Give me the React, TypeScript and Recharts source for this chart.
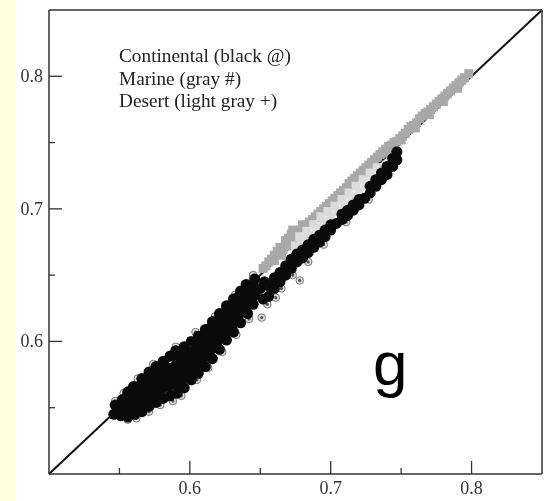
import React from "react";
import { ScatterChart, Scatter, XAxis, YAxis, ReferenceLine } from "recharts";

type P = [number, number];

const tickValues = [0.55, 0.6, 0.65, 0.7, 0.75, 0.8];
const majorTicks = [0.6, 0.7, 0.8];
const legendLines = ["Continental (black @)", "Marine (gray #)", "Desert (light gray +)"];
const panelLetter = "g";

const continentalBody: P[] = [
  [0.556,0.553],[0.562,0.556],[0.568,0.561],[0.574,0.566],[0.58,0.57],[0.586,0.574],[0.592,0.577],
  [0.598,0.581],[0.604,0.588],[0.61,0.595],[0.616,0.602],[0.622,0.609],[0.628,0.616],[0.634,0.625],[0.64,0.632],
];

const continentalCore: P[] = [
  [0.546,0.545],[0.547,0.552],[0.551,0.544],[0.55,0.551],[0.552,0.556],
  [0.556,0.543],[0.555,0.55],[0.556,0.557],[0.556,0.562],
  [0.561,0.545],[0.56,0.552],[0.561,0.559],[0.56,0.566],
  [0.566,0.547],[0.565,0.554],[0.566,0.561],[0.565,0.567],[0.566,0.572],
  [0.571,0.551],[0.57,0.557],[0.571,0.564],[0.57,0.571],[0.571,0.577],
  [0.576,0.554],[0.575,0.561],[0.576,0.568],[0.575,0.575],[0.576,0.581],
  [0.581,0.557],[0.58,0.564],[0.581,0.571],[0.58,0.578],[0.581,0.585],
  [0.586,0.559],[0.585,0.566],[0.586,0.573],[0.585,0.58],[0.586,0.589],
  [0.591,0.561],[0.59,0.568],[0.591,0.575],[0.59,0.582],[0.591,0.588],[0.59,0.593],
  [0.596,0.565],[0.595,0.572],[0.596,0.579],[0.595,0.586],[0.596,0.596],[0.595,0.592],
  [0.601,0.571],[0.6,0.578],[0.601,0.585],[0.6,0.592],[0.601,0.6],
  [0.606,0.576],[0.605,0.583],[0.606,0.59],[0.605,0.597],[0.606,0.604],
  [0.611,0.581],[0.61,0.588],[0.611,0.595],[0.61,0.602],[0.611,0.609],
  [0.616,0.587],[0.615,0.594],[0.616,0.601],[0.615,0.608],[0.616,0.615],
  [0.621,0.594],[0.62,0.601],[0.621,0.608],[0.62,0.615],[0.621,0.621],
  [0.626,0.601],[0.625,0.608],[0.626,0.615],[0.625,0.622],[0.626,0.627],
  [0.631,0.607],[0.63,0.614],[0.631,0.621],[0.63,0.628],[0.631,0.632],
  [0.636,0.614],[0.635,0.621],[0.636,0.628],[0.635,0.634],[0.636,0.638],
  [0.641,0.621],[0.64,0.628],[0.641,0.635],[0.64,0.643],
  [0.645,0.628],[0.646,0.635],[0.645,0.642],[0.646,0.647],
  [0.65,0.64],[0.653,0.645],[0.656,0.642],[0.652,0.632],[0.656,0.634],
  [0.66,0.64],[0.66,0.648],[0.664,0.645],[0.664,0.652],[0.668,0.65],
  [0.668,0.657],[0.672,0.655],[0.672,0.662],[0.676,0.66],[0.676,0.666],
  [0.68,0.663],[0.68,0.669],[0.684,0.667],[0.684,0.673],[0.688,0.671],
  [0.688,0.677],[0.692,0.675],[0.692,0.68],[0.696,0.679],[0.696,0.684],
  [0.7,0.684],[0.7,0.688],[0.704,0.689],[0.708,0.692],[0.708,0.696],
  [0.712,0.695],[0.712,0.699],[0.716,0.699],[0.716,0.703],[0.72,0.703],
  [0.72,0.707],[0.724,0.708],[0.728,0.712],[0.728,0.717],[0.732,0.717],
  [0.732,0.722],[0.736,0.722],[0.736,0.727],[0.74,0.726],[0.74,0.732],
  [0.744,0.732],[0.744,0.738],[0.747,0.737],[0.747,0.743],
];

const continentalEdge: P[] = [
  [0.551,0.543],[0.556,0.541],[0.562,0.542],[0.571,0.547],[0.579,0.552],[0.588,0.555],[0.594,0.559],
  [0.605,0.571],[0.613,0.58],[0.623,0.592],[0.633,0.605],[0.642,0.617],[0.651,0.618],
  [0.655,0.628],[0.661,0.633],[0.665,0.64],[0.678,0.646],[0.673,0.65],[0.684,0.66],
  [0.547,0.555],[0.553,0.561],[0.563,0.572],[0.574,0.583],[0.59,0.596],[0.604,0.607],
  [0.618,0.619],[0.632,0.635],[0.645,0.65],[0.695,0.673],[0.711,0.69],[0.727,0.707],
];

const marine: P[] = [
  [0.652,0.655],[0.656,0.66],[0.66,0.665],[0.664,0.671],[0.668,0.676],[0.672,0.681],[0.675,0.683],
  [0.679,0.684],[0.683,0.688],[0.687,0.692],[0.691,0.696],[0.695,0.7],[0.699,0.704],[0.703,0.708],
  [0.707,0.712],[0.711,0.716],[0.715,0.721],[0.719,0.725],[0.723,0.729],[0.727,0.733],[0.731,0.737],
  [0.735,0.741],[0.739,0.745],[0.743,0.748],[0.747,0.751],[0.751,0.755],[0.755,0.76],[0.759,0.763],
  [0.763,0.768],[0.767,0.772],[0.771,0.775],[0.775,0.779],[0.779,0.783],[0.783,0.787],[0.787,0.791],
  [0.791,0.795],[0.795,0.799],[0.798,0.802],[0.66,0.661],[0.666,0.669],[0.672,0.676],[0.73,0.732],
  [0.74,0.742],[0.75,0.752],[0.76,0.761],[0.77,0.771],[0.78,0.781],[0.79,0.791],
  [0.654,0.657],[0.658,0.662],[0.662,0.668],[0.67,0.678],[0.677,0.683],[0.681,0.686],[0.685,0.69],
  [0.689,0.694],[0.693,0.698],[0.697,0.702],[0.701,0.706],[0.705,0.71],[0.709,0.714],[0.713,0.719],
  [0.717,0.723],[0.721,0.727],[0.725,0.731],[0.729,0.735],[0.733,0.739],[0.737,0.743],[0.741,0.747],
  [0.745,0.75],[0.749,0.753],[0.753,0.757],[0.757,0.762],[0.761,0.765],[0.765,0.77],[0.769,0.773],
  [0.773,0.777],[0.777,0.781],[0.781,0.785],[0.785,0.789],[0.789,0.793],[0.793,0.797],
  [0.665,0.665],[0.67,0.672],[0.675,0.678],[0.673,0.684],[0.68,0.688],
];

const desert: P[] = [
  [0.675,0.672],[0.68,0.676],[0.685,0.68],[0.69,0.685],[0.695,0.69],[0.7,0.694],[0.705,0.698],
  [0.71,0.703],[0.715,0.708],[0.72,0.713],[0.725,0.718],[0.73,0.723],[0.735,0.728],[0.74,0.733],
  [0.678,0.679],[0.683,0.683],[0.688,0.688],[0.693,0.694],[0.698,0.698],[0.703,0.702],[0.708,0.707],
  [0.713,0.712],[0.718,0.717],[0.723,0.722],[0.728,0.727],[0.733,0.731],
];

const toPoints = (a: P[]) => a.map(([x, y]) => ({ x, y }));
const FONT = "'Liberation Serif', serif";

const Body = (p: any) => <circle cx={p.cx} cy={p.cy} r={11} fill="#0a0a0a" />;
const Core = (p: any) => <circle cx={p.cx} cy={p.cy} r={5.5} fill="#0a0a0a" />;
const Ring = (p: any) => (
  <g>
    <circle cx={p.cx} cy={p.cy} r={3.8} fill="#ddd" stroke="#777" strokeWidth={1} />
    <circle cx={p.cx} cy={p.cy} r={1.6} fill="#555" />
  </g>
);
const Hash = (p: any) => <rect x={p.cx - 4.5} y={p.cy - 4.5} width={9} height={9} fill="#a9a9a9" />;
const Plus = (p: any) => <rect x={p.cx - 4.5} y={p.cy - 4.5} width={9} height={9} fill="#dcdcdc" />;

const tickLen = (v: number) => (majorTicks.includes(v) ? 13 : 6);

const BottomTick = (p: any) => {
  const v = p.payload.value;
  const l = tickLen(v);
  return (
    <g>
      <line x1={p.x} x2={p.x} y1={474} y2={474 - l} stroke="#333" strokeWidth={1.3} />
      {majorTicks.includes(v) && (
        <text x={p.x} y={494} textAnchor="middle" fontFamily={FONT} fontSize={18} fill="#333">{v.toFixed(1)}</text>
      )}
    </g>
  );
};
const TopTick = (p: any) => (
  <line x1={p.x} x2={p.x} y1={10} y2={10 + tickLen(p.payload.value)} stroke="#333" strokeWidth={1.3} />
);
const LeftTick = (p: any) => {
  const v = p.payload.value;
  const l = tickLen(v);
  return (
    <g>
      <line x1={49} x2={49 + l} y1={p.y} y2={p.y} stroke="#333" strokeWidth={1.3} />
      {majorTicks.includes(v) && (
        <text x={43} y={p.y + 6} textAnchor="end" fontFamily={FONT} fontSize={18} fill="#333">{v.toFixed(1)}</text>
      )}
    </g>
  );
};
const RightTick = (p: any) => (
  <line x1={542} x2={542 - tickLen(p.payload.value)} y1={p.y} y2={p.y} stroke="#333" strokeWidth={1.3} />
);

const axisLine = { stroke: "#333", strokeWidth: 1.5 };

export default function App() {
  return (
    <div style={{ position: "absolute", left: 0, top: 0, width: 553, height: 501, background: "#fff", overflow: "hidden" }}>
      <div style={{ position: "absolute", left: 0, top: 0, width: 15, height: 501, background: "#ffffdc" }} />
      <ScatterChart width={553} height={501} margin={{ top: 0, right: 0, bottom: 0, left: 0 }} style={{ position: "absolute", left: 0, top: 0, filter: "blur(0.5px)" }}>
        <XAxis type="number" dataKey="x" domain={[0.5, 0.85]} ticks={tickValues} interval={0} height={27} axisLine={axisLine} tickLine={false} tick={<BottomTick />} allowDataOverflow />
        <YAxis type="number" dataKey="y" domain={[0.5, 0.85]} ticks={tickValues} interval={0} width={49} axisLine={axisLine} tickLine={false} tick={<LeftTick />} allowDataOverflow />
        <XAxis xAxisId="top" orientation="top" type="number" domain={[0.5, 0.85]} ticks={tickValues} interval={0} height={10} axisLine={axisLine} tickLine={false} tick={<TopTick />} />
        <YAxis yAxisId="right" orientation="right" type="number" domain={[0.5, 0.85]} ticks={tickValues} interval={0} width={11} axisLine={axisLine} tickLine={false} tick={<RightTick />} />
        <Scatter name="Marine" data={toPoints(marine)} shape={<Hash />} isAnimationActive={false} />
        <Scatter name="Desert" data={toPoints(desert)} shape={<Plus />} isAnimationActive={false} />
        <Scatter name="Continental edge" data={toPoints(continentalEdge)} shape={<Ring />} isAnimationActive={false} />
        <Scatter name="Continental" data={toPoints(continentalCore)} shape={<Core />} isAnimationActive={false} />
        <Scatter name="Continental body" data={toPoints(continentalBody)} shape={<Body />} isAnimationActive={false} />
        <ReferenceLine segment={[{ x: 0.5, y: 0.5 }, { x: 0.85, y: 0.85 }]} stroke="#111" strokeWidth={2} />
        {legendLines.map((t, i) => (
          <text key={t} x={119} y={62 + i * 22.5} fontFamily={FONT} fontSize={19.3} fill="#222">{t}</text>
        ))}
        <text x={373} y={385} fontFamily="'Liberation Sans', sans-serif" fontSize={62} fill="#000">{panelLetter}</text>
      </ScatterChart>
    </div>
  );
}
